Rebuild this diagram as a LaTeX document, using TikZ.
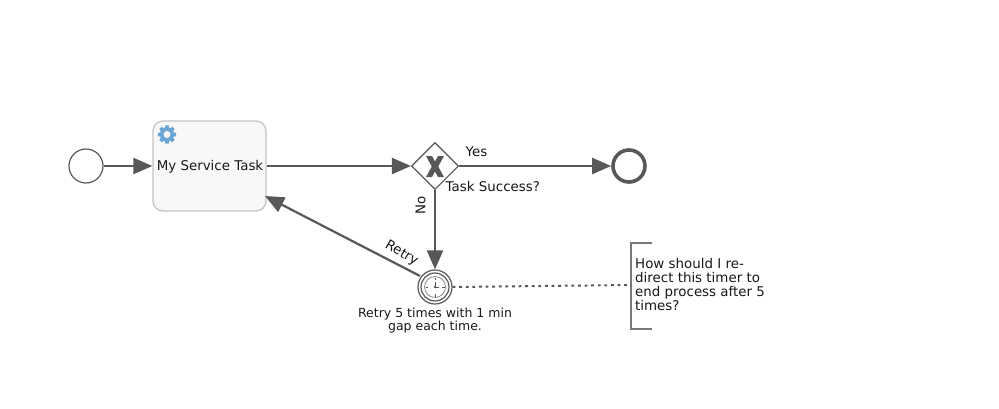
\documentclass[tikz,border=0pt]{standalone}
\usepackage{fontspec}
\setmainfont{DejaVu Sans}
\usetikzlibrary{arrows.meta,shapes.geometric}
\definecolor{flow}{HTML}{585858}
\definecolor{gearblue}{HTML}{6AA6D6}
\definecolor{taskfill}{HTML}{F8F8F8}
\definecolor{taskline}{HTML}{C4C4C4}
\tikzset{
  x=1pt,y=-1pt,
  lbl/.style={inner sep=0pt,font=\fontsize{13.4}{13.9}\selectfont,text=black!90},
  seqflow/.style={draw=flow,line width=2.2pt,-{Triangle[length=19pt,width=16pt]}},
  startev/.style={circle,draw=flow,line width=1.2pt,minimum size=34pt,inner sep=0pt},
  endev/.style={circle,draw=flow,line width=3.6pt,minimum size=32pt,inner sep=0pt},
  tasknode/.style={rectangle,rounded corners=10pt,draw=taskline,fill=taskfill,line width=1.3pt,minimum width=113pt,minimum height=90pt,inner sep=0pt},
  gatewaynode/.style={diamond,draw=flow,line width=1.1pt,fill=white,minimum width=47pt,minimum height=47pt,inner sep=0pt},
  timerring/.style={circle,draw=flow,line width=1.2pt,inner sep=0pt},
}
\begin{document}
\begin{tikzpicture}
\useasboundingbox[fill=white] (0,0) rectangle (999,408);

% Events, task and gateway
\node[startev] (start) at (86,166) {};
\node[tasknode] (task) at (209.5,166) {};
\node[lbl] (tasklabel) at (210,167) {My Service Task};
\node[gatewaynode] (gw) at (435,166) {};
\node[endev] (end) at (629,166) {};
\node[timerring,minimum size=34pt,fill=white] (timer) at (435,287) {};
\node[timerring,minimum size=28pt] (timerinner) at (435,287) {};
\node[timerring,minimum size=21pt,draw=flow!70,line width=.8pt] (clock) at (435,287) {};

% Gear icon on the service task
\begin{scope}[shift={(167,134.5)}]
  \foreach \a in {0,45,...,315}
    \fill[gearblue,rotate=\a] (-2.2,-6) -- (-1.7,-9.2) -- (1.7,-9.2) -- (2.2,-6) -- cycle;
  \fill[gearblue,even odd rule] (0,0) circle[radius=7] (0,0) circle[radius=3.6];
\end{scope}

% Exclusive gateway cross
\fill[flow] (426,156) -- (432,156) -- (435,161.5) -- (438,156) -- (444,156)
  -- (438.2,166.5) -- (444,177) -- (438,177) -- (435,171.5) -- (432,177) -- (426,177)
  -- (431.8,166.5) -- cycle;

% Clock ticks and hands
\foreach \a in {0,90,180,270}
  \draw[flow,line width=.6pt,rotate around={\a:(435,287)}] (435,277.5) -- (435,280);
\draw[flow,line width=.8pt] (435,287) -- (435,282);
\draw[flow,line width=.8pt] (435,287) -- (439,287);
\fill[flow] (435,287) circle[radius=1.3];

% Sequence flows
\coordinate (retryend) at (265,196);
\coordinate (retrystart) at (420,276);
\draw[seqflow] (start.east) -- (task.west);
\draw[seqflow] (task.east) -- (gw.west);
\draw[seqflow] (gw.east) -- (end.west);
\draw[seqflow] (gw.south) -- (timer.north);
\draw[seqflow] (retrystart) -- (retryend);

% Text annotation and its association
\coordinate (brtop) at (652,243);
\coordinate (brbot) at (652,329);
\coordinate (brleft) at (631,285);
\draw[flow!80,line width=1.2pt] (brtop) -- (631,243) -- (631,329) -- (brbot);
\draw[flow,line width=2pt,dash pattern=on 2.8pt off 3.8pt] (timer.east) -- (brleft);
\node[lbl,anchor=north west,align=left] (note) at (635,258.5) {How should I re-\\direct this timer to\\end process after 5\\times?};

% Labels
\node[lbl] (yes) at (476.5,151.5) {Yes};
\node[lbl,anchor=west] (gwlabel) at (445.5,186) {Task Success?};
\node[lbl,rotate=90] (no) at (420.5,205) {No};
\node[lbl,rotate=-30] (retry) at (401.5,253.5) {Retry};
\node[lbl,align=center,font=\fontsize{12.5}{13}\selectfont] (timerlabel) at (435,321) {Retry 5 times with 1 min\\gap each time.};
\end{tikzpicture}
\end{document}
